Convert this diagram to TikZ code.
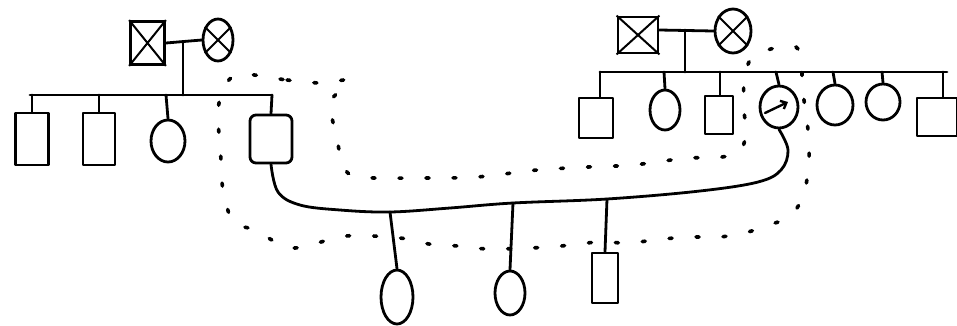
\documentclass[tikz,border=0pt]{standalone}
\usetikzlibrary{shapes.geometric,arrows.meta}
\begin{document}
\begin{tikzpicture}[x=1pt,y=-1pt,
  ln/.style={line width=2.8pt,line cap=round,line join=round},
  male/.style={draw,ln,rectangle,inner sep=0pt},
  female/.style={draw,ln,ellipse,inner sep=0pt},
  hh/.style={line width=3.6pt,line cap=round,dash pattern=on 3pt off 24pt}]
\useasboundingbox (0,0) rectangle (957,325);
% ---------- left family ----------
\node[male,minimum width=34pt,minimum height=43pt] (gf1) at (147.5,43) {};
\node[female,minimum width=30pt,minimum height=42pt] (gm1) at (218,40) {};
\draw[line width=2pt] (gf1.north west) -- (gf1.south east) (gf1.north east) -- (gf1.south west);
\draw[line width=2pt] (gm1.45) -- (gm1.225) (gm1.135) -- (gm1.315);
\coordinate (m1) at (183,43);
\coordinate (s1) at (183,95);
\draw[ln] (gf1.east |- m1) -- (gm1.west);
\draw[ln] (m1) -- (s1);
\coordinate (sl1) at (30,95);
\coordinate (sr1) at (272,95);
\draw[ln] (sl1) -- (sr1);
\node[male,minimum width=33pt,minimum height=52pt] (c1) at (32,139) {};
\node[male,minimum width=32pt,minimum height=52pt] (c2) at (99,139) {};
\node[female,minimum width=34pt,minimum height=42pt] (c3) at (168,141) {};
\node[male,minimum width=42pt,minimum height=48pt,rounded corners=6pt] (c4) at (271,139) {};
\draw[ln] (32,95) -- (c1.north);
\draw[ln] (99,95) -- (c2.north);
\draw[ln] (166,95) -- (c3.north);
\draw[ln] (272,95) -- (c4.north);
% ---------- right family ----------
\node[male,minimum width=40pt,minimum height=36pt] (gf2) at (638,35) {};
\node[female,minimum width=36pt,minimum height=44pt] (gm2) at (733,31) {};
\draw[line width=2pt] (gf2.north west) -- (gf2.south east) (gf2.north east) -- (gf2.south west);
\draw[line width=2pt] (gm2.45) -- (gm2.225) (gm2.135) -- (gm2.315);
\coordinate (m2) at (685,30);
\coordinate (s2) at (685,72);
\draw[ln] (gf2.east |- m2) -- (gm2.west);
\draw[ln] (m2) -- (s2);
\coordinate (sl2) at (600,72);
\coordinate (sr2) at (947,72);
\draw[ln] (sl2) -- (sr2);
\node[male,minimum width=34pt,minimum height=40pt] (d1) at (596,118) {};
\node[female,minimum width=30pt,minimum height=40pt] (d2) at (665,110) {};
\node[male,minimum width=28pt,minimum height=38pt] (d3) at (719,115) {};
\node[female,minimum width=38pt,minimum height=42pt] (idx) at (779,107) {};
\node[female,minimum width=36pt,minimum height=40pt] (d5) at (835,105) {};
\node[female,minimum width=34pt,minimum height=36pt] (d6) at (883,102) {};
\node[male,minimum width=40pt,minimum height=38pt] (d7) at (937,117) {};
\draw[ln] (600,72) -- (d1.north -| 600,0);
\draw[ln] (664,72) -- (d2.north);
\draw[ln] (720,72) -- (d3.north -| 720,0);
\draw[ln] (776,72) -- (idx.north);
\draw[ln] (833,72) -- (d5.north);
\draw[ln] (882,72) -- (d6.north);
\draw[ln] (943,72) -- (d7.north -| 943,0);
\coordinate (ia) at (765,113);
\coordinate (ib) at (788,102);
\draw[line width=2.4pt,line cap=round,-{Straight Barb[length=5pt,width=9pt]}] (ia) -- (ib);
% ---------- marriage and children ----------
\coordinate (k1) at (390,212);
\coordinate (k2) at (513,203);
\coordinate (k3) at (607,199);
\draw[ln] plot[smooth,tension=0.6] coordinates {(c4.south) (278,192) (300,205) (340,210) (k1) (450,208) (k2) (k3) (700,191) (758,182) (781,170) (788,150) (idx.south)};
\node[female,minimum width=32pt,minimum height=54pt] (e1) at (397,297) {};
\node[female,minimum width=30pt,minimum height=44pt] (e2) at (510,293) {};
\node[male,minimum width=26pt,minimum height=50pt] (e3) at (605,278) {};
\draw[ln] (k1) -- (e1.north);
\draw[ln] (k2) -- (e2.north);
\draw[ln] (k3) -- (e3.north);
% ---------- household boundary ----------
\draw[hh] plot[smooth cycle,tension=0.5] coordinates {
 (239,74) (287,80) (321,83) (348,80) (338,92) (330,105) (337,139) (343,165) (358,177)
 (428,178) (477,177) (537,170) (588,167) (633,165) (687,158) (712,158) (738,153)
 (746,135) (744,110) (744,82) (749,62) (762,52) (780,47) (796,47) (801,60)
 (803,92) (808,130) (809,160) (805,190) (797,208) (785,219) (772,224) (748,232)
 (720,237) (690,237) (663,239) (628,243) (598,242) (550,247) (490,249) (458,246)
 (429,244) (400,238) (346,236) (292,248) (255,230) (233,222) (223,190) (221,160)
 (218,112) (224,88)};
\end{tikzpicture}
\end{document}
